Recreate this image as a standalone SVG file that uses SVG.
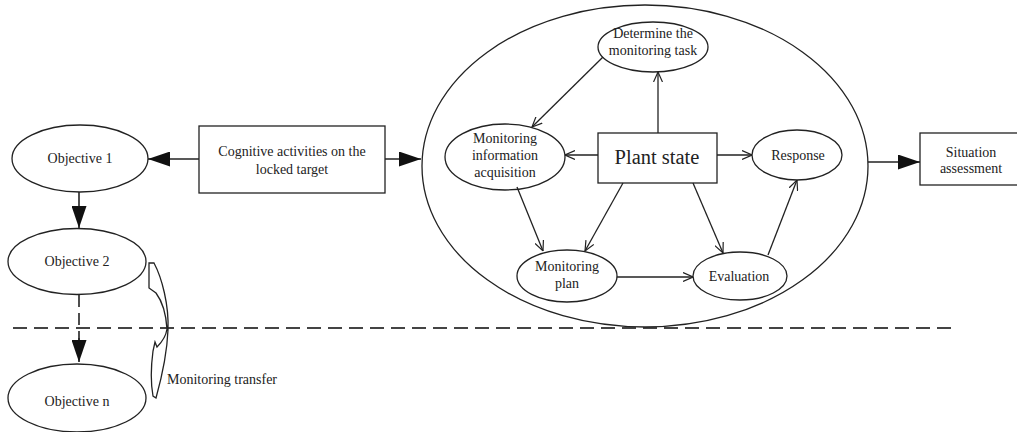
<svg xmlns="http://www.w3.org/2000/svg" width="1017" height="432" viewBox="0 0 1017 432">
<style>
.n{fill:#fff;stroke:#222;stroke-width:1.3}
.t{font-family:"Liberation Serif","Times New Roman",serif;font-size:14px;fill:#222;text-anchor:middle}
.c{fill:none;stroke:#222;stroke-width:1.3}
.cf{fill:none;stroke:#222;stroke-width:1.6}
</style>
<defs>
<marker id="open" viewBox="0 0 10 10" refX="10" refY="5" markerWidth="10" markerHeight="10" markerUnits="userSpaceOnUse" orient="auto">
<path d="M0,0.5 L10,5 L0,9.5" fill="none" stroke="#222" stroke-width="1.2"/>
</marker>
<marker id="solid" viewBox="0 0 22 15" refX="22" refY="7.5" markerWidth="22" markerHeight="15" markerUnits="userSpaceOnUse" orient="auto">
<path d="M0,0 L22,7.5 L0,15 Z" fill="#111"/>
</marker>
</defs>
<rect width="1017" height="432" fill="#fff"/>
<g id="dash-line"><line x1="13" y1="328" x2="952" y2="328" stroke="#444" stroke-width="2" stroke-dasharray="14 7"/></g>
<g id="outer"><ellipse class="n" cx="645" cy="166" rx="223" ry="161"/></g>
<g id="objective1"><ellipse class="n" cx="80" cy="158.5" rx="68" ry="33.5"/><text class="t" x="80" y="163">Objective 1</text></g>
<g id="objective2"><ellipse class="n" cx="77" cy="261.5" rx="69" ry="33"/><text class="t" x="77" y="266">Objective 2</text></g>
<g id="objectiven"><ellipse class="n" cx="77" cy="398" rx="69" ry="34"/><text class="t" x="77" y="406">Objective n</text></g>
<g id="cognitive"><rect class="n" x="199" y="126" width="186" height="67"/><text class="t" x="292" y="156">Cognitive activities on the</text><text class="t" x="292" y="174">locked target</text></g>
<g id="situation"><rect class="n" x="920" y="133" width="102" height="52"/><text class="t" x="971" y="157">Situation</text><text class="t" x="971" y="173">assessment</text></g>
<g id="determine"><ellipse class="n" cx="653" cy="47" rx="55" ry="25"/><text class="t" x="653" y="38">Determine the</text><text class="t" x="653" y="55">monitoring task</text></g>
<g id="mia"><ellipse class="n" cx="505" cy="157" rx="60" ry="33"/><text class="t" x="505" y="143">Monitoring</text><text class="t" x="505" y="160">information</text><text class="t" x="505" y="177">acquisition</text></g>
<g id="plant"><rect class="n" x="598" y="133" width="119" height="50"/><text class="t" x="657" y="164" style="font-size:20.5px">Plant state</text></g>
<g id="response"><ellipse class="n" cx="797" cy="155" rx="45" ry="25"/><text class="t" x="798" y="160">Response</text></g>
<g id="monplan"><ellipse class="n" cx="567" cy="276" rx="50" ry="26"/><text class="t" x="567" y="271">Monitoring</text><text class="t" x="567" y="288">plan</text></g>
<g id="evaluation"><ellipse class="n" cx="740" cy="276" rx="47" ry="24"/><text class="t" x="739" y="281">Evaluation</text></g>
<g id="transfer"><path d="M149,263 L154,263 C162,278 169,305 168,330 C167,355 161,380 156,398 L153,396 C151,385 151,366 153,351 L155,342 L157,347 C162,342 166,336 167,329 C166,313 162,301 156,293 L149,288 Z" fill="#fff" stroke="#222" stroke-width="1.3"/><text class="t" x="167" y="384" style="text-anchor:start">Monitoring transfer</text></g>
<g id="connectors">
<line class="cf" x1="199" y1="159" x2="148" y2="159" marker-end="url(#solid)"/>
<line class="cf" x1="385" y1="159" x2="421" y2="159" marker-end="url(#solid)"/>
<line class="cf" x1="868" y1="162" x2="920" y2="162" marker-end="url(#solid)"/>
<line class="cf" x1="79" y1="192" x2="79" y2="228" marker-end="url(#solid)"/>
<line class="cf" x1="79" y1="295" x2="79" y2="340" stroke-dasharray="12 6"/>
<line class="cf" x1="79" y1="338" x2="79" y2="362" marker-end="url(#solid)"/>
<line class="c" x1="658" y1="133" x2="658" y2="72" marker-end="url(#open)"/>
<line class="c" x1="603" y1="57" x2="532" y2="127" marker-end="url(#open)"/>
<line class="c" x1="598" y1="155" x2="565" y2="155" marker-end="url(#open)"/>
<line class="c" x1="717" y1="155" x2="752" y2="155" marker-end="url(#open)"/>
<line class="c" x1="517" y1="187" x2="543" y2="251" marker-end="url(#open)"/>
<line class="c" x1="623" y1="183" x2="585" y2="251" marker-end="url(#open)"/>
<line class="c" x1="693" y1="183" x2="723" y2="253" marker-end="url(#open)"/>
<line class="c" x1="768" y1="255" x2="797" y2="180" marker-end="url(#open)"/>
<line class="c" x1="617" y1="277" x2="693" y2="277" marker-end="url(#open)"/>
</g>
</svg>
